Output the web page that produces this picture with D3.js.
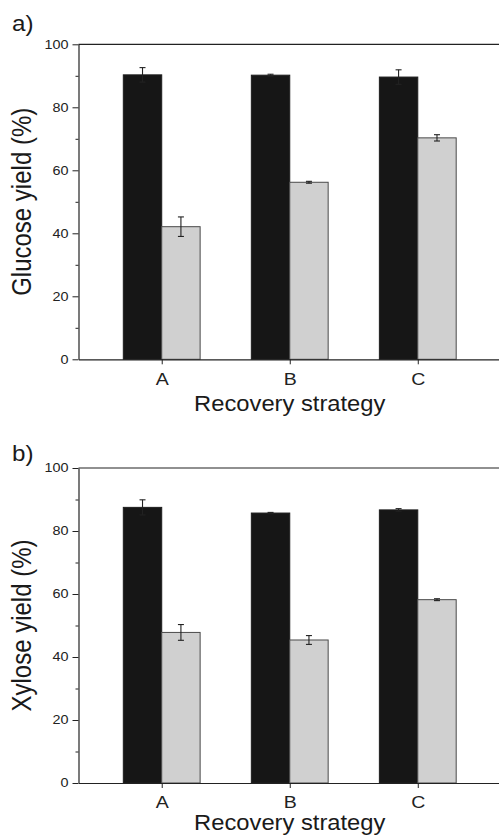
<!DOCTYPE html>
<html>
<head>
<meta charset="utf-8">
<script src="https://cdn.jsdelivr.net/npm/d3@7"></script>
<style>
  body { margin: 0; background: #fff; }
  svg { display: block; font-family: "Liberation Sans", Arial, sans-serif; }
</style>
</head>
<body>
<svg id="chart"></svg>
<script>
// data
var categories = ["A", "B", "C"];
var yTicks = [0, 20, 40, 60, 80, 100];
var yMinorTicks = [10, 30, 50, 70, 90];

var glucoseDark = [90.3, 90.2, 89.6];
var glucoseDarkErr = [2.3, 0.3, 2.3];
var glucoseLight = [42.1, 56.2, 70.3];
var glucoseLightErr = [3.1, 0.3, 1.0];

var xyloseDark = [87.5, 85.7, 86.7];
var xyloseDarkErr = [2.4, 0.2, 0.4];
var xyloseLight = [47.8, 45.4, 58.2];
var xyloseLightErr = [2.5, 1.4, 0.3];

var width = 499, height = 839;

var svg = d3.select("#chart")
    .attr("width", width)
    .attr("height", height);

// the picture is a bit wider than tall, so text gets a horizontal stretch
function stretchLeftLabels(g, s) {
  g.selectAll(".tick text").each(function() {
    var t = d3.select(this);
    var x = +t.attr("x");
    t.attr("x", 0).attr("transform", "translate(" + x + ",0) scale(" + s + ",1)");
  });
}

function drawPanel(p) {
  var x = d3.scaleLinear().domain([0.35, 3.65]).range([78.5, 501]);
  var y = d3.scaleLinear().domain([0, 100]).range([p.bottom, p.top]);
  var barW = 0.3;

  var g = svg.append("g");

  // dark bars (left of each category tick)
  g.selectAll(".dark")
    .data(p.dark)
    .enter()
    .append("rect")
    .attr("x", function(d, i) { return x(i + 1 - barW); })
    .attr("y", function(d) { return y(d); })
    .attr("width", function(d, i) { return x(i + 1) - x(i + 1 - barW); })
    .attr("height", function(d) { return y(0) - y(d); })
    .attr("fill", "#161616")
    .attr("stroke", "#1e1e1e")
    .attr("stroke-width", 1);

  // light bars (right of each tick)
  g.selectAll(".light")
    .data(p.light)
    .enter()
    .append("rect")
    .attr("x", function(d, i) { return x(i + 1); })
    .attr("y", function(d) { return y(d); })
    .attr("width", function(d, i) { return x(i + 1 + barW) - x(i + 1); })
    .attr("height", function(d) { return y(0) - y(d); })
    .attr("fill", "#d0d0d0")
    .attr("stroke", "#4a4a4a")
    .attr("stroke-width", 1);

  // error bars
  function errBars(vals, errs, off) {
    var eg = g.append("g").attr("stroke", "#222").attr("stroke-width", 1.1);
    vals.forEach(function(v, i) {
      var cx = x(i + 1 + off);
      eg.append("line")
        .attr("x1", cx).attr("x2", cx)
        .attr("y1", y(v + errs[i])).attr("y2", y(v - errs[i]));
      [v + errs[i], v - errs[i]].forEach(function(e) {
        eg.append("line")
          .attr("x1", cx - 3).attr("x2", cx + 3)
          .attr("y1", y(e)).attr("y2", y(e));
      });
    });
  }
  errBars(p.dark, p.darkErr, -barW / 2);
  errBars(p.light, p.lightErr, barW / 2);

  // top frame line
  g.append("line")
    .attr("x1", x.range()[0]).attr("x2", x.range()[1])
    .attr("y1", y(100)).attr("y2", y(100))
    .attr("stroke", "#222").attr("stroke-width", 1.2);

  // minor y ticks
  g.append("g")
    .attr("transform", "translate(" + x.range()[0] + ",0)")
    .call(d3.axisLeft(y).tickValues(yMinorTicks).tickSize(3).tickSizeOuter(0).tickFormat(""))
    .call(function(a) { a.select(".domain").remove(); })
    .selectAll("line").attr("stroke", "#222");

  // y axis
  var ya = g.append("g")
    .attr("transform", "translate(" + x.range()[0] + ",0)")
    .call(d3.axisLeft(y).tickValues(yTicks).tickSize(6).tickSizeOuter(0).tickPadding(4));
  ya.select(".domain").attr("stroke", "#222").attr("stroke-width", 1.2);
  ya.selectAll("line").attr("stroke", "#222");
  ya.selectAll("text").attr("font-size", 12).attr("fill", "#222")
    .attr("font-family", "Liberation Sans, Arial, sans-serif");
  stretchLeftLabels(ya, 1.2);

  // x axis
  var xa = g.append("g")
    .attr("transform", "translate(0," + y(0) + ")")
    .call(d3.axisBottom(x).tickValues([1, 2, 3]).tickSize(5).tickSizeOuter(0).tickPadding(p.catPad)
      .tickFormat(function(d) { return categories[d - 1]; }));
  xa.select(".domain").attr("stroke", "#222").attr("stroke-width", 1.2);
  xa.selectAll("line").attr("stroke", "#222");
  xa.selectAll("text").attr("font-size", 17).attr("fill", "#222")
    .attr("font-family", "Liberation Sans, Arial, sans-serif")
    .attr("transform", "scale(1.15,1)");

  // axis titles
  g.append("text")
    .attr("text-anchor", "middle")
    .attr("font-size", 22)
    .attr("fill", "#1a1a1a")
    .attr("transform", "translate(" + x(2) + "," + p.xTitleY + ") scale(1.08,1)")
    .text("Recovery strategy");

  g.append("text")
    .attr("text-anchor", "middle")
    .attr("font-size", 24)
    .attr("fill", "#1a1a1a")
    .attr("transform", "translate(31," + (p.top + p.bottom) / 2 + ") scale(1.16,1) rotate(-90)")
    .text(p.yTitle);

  // panel letter
  g.append("text")
    .attr("font-size", 22)
    .attr("fill", "#1a1a1a")
    .attr("transform", "translate(12," + p.letterY + ") scale(1.1,1)")
    .text(p.letter);
}

drawPanel({
  top: 44.3, bottom: 359.3,
  dark: glucoseDark, darkErr: glucoseDarkErr,
  light: glucoseLight, lightErr: glucoseLightErr,
  yTitle: "Glucose yield (%)", letter: "a)", letterY: 31,
  xTitleY: 411, catPad: 8.5
});

drawPanel({
  top: 468, bottom: 783,
  dark: xyloseDark, darkErr: xyloseDarkErr,
  light: xyloseLight, lightErr: xyloseLightErr,
  yTitle: "Xylose yield (%)", letter: "b)", letterY: 461,
  xTitleY: 830, catPad: 7.5
});
</script>
</body>
</html>
